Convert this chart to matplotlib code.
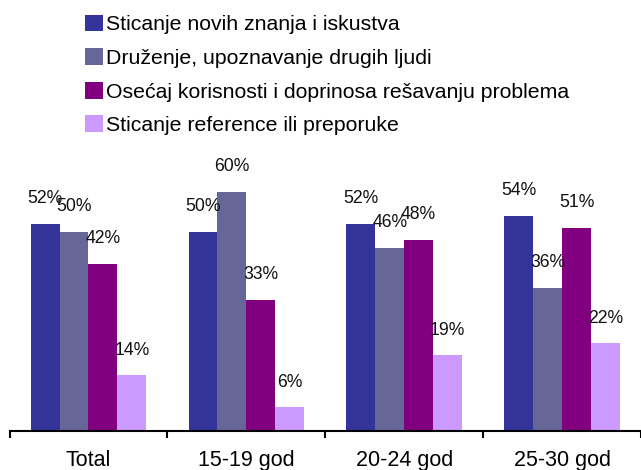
import matplotlib
matplotlib.use('Agg')
import matplotlib.pyplot as plt
from matplotlib.patches import Patch
import numpy as np

categories = ['Total', '15-19 god', '20-24 god', '25-30 god']
series_names = ['Sticanje novih znanja i iskustva',
                'Druženje, upoznavanje drugih ljudi',
                'Osećaj korisnosti i doprinosa rešavanju problema',
                'Sticanje reference ili preporuke']
znanja = [52, 50, 52, 54]
druzenje = [50, 60, 46, 36]
korisnost = [42, 33, 48, 51]
reference = [14, 6, 19, 22]
colors = ['#333399', '#666699', '#800080', '#CC99FF']

plt.rcParams['font.family'] = ['Liberation Sans', 'DejaVu Sans']

fig = plt.figure(figsize=(6.41, 4.70), dpi=100)
W, H = 641, 470
# axes: x from 9.5 px to right edge, baseline at y=431, 66% spans 263 px
ax = fig.add_axes([9.5 / W, (H - 431) / H, 631.5 / W, 263 / H])

x = np.arange(len(categories))
width = 0.183
values = [znanja, druzenje, korisnost, reference]
for i, vals in enumerate(values):
    pos = x + (i - 1.5) * width
    ax.bar(pos, vals, width, color=colors[i], linewidth=0)
    for px, v in zip(pos, vals):
        ax.annotate('%d%%' % v, (px, v), xytext=(0, 18), textcoords='offset points',
                    ha='center', va='center', fontsize=12.7, color='#111111')

ax.set_xlim(-0.5, -0.5 + 631.5 / 160.5)
ax.set_ylim(0, 66)
ax.set_yticks([])
for s in ['top', 'right', 'left']:
    ax.spines[s].set_visible(False)
ax.spines['bottom'].set_linewidth(1.5)
ax.set_xticks(np.arange(len(categories) + 1) - 0.5)
ax.set_xticklabels([])
ax.tick_params(axis='x', which='major', direction='out', length=5, width=1.5)
ax.set_xticks(x, minor=True)
ax.set_xticklabels(categories, minor=True, fontsize=15.5)
ax.tick_params(axis='x', which='minor', length=0, pad=14)

handles = [Patch(facecolor=c, edgecolor='none') for c in colors]
fig.legend(handles, series_names, loc='upper left', bbox_to_anchor=(76 / W, 1 - 6 / H),
           frameon=False, fontsize=15.3, handlelength=0.85, handleheight=0.85,
           handletextpad=0.15, labelspacing=0.65, borderaxespad=0)

fig.savefig('out.png', dpi=100)
